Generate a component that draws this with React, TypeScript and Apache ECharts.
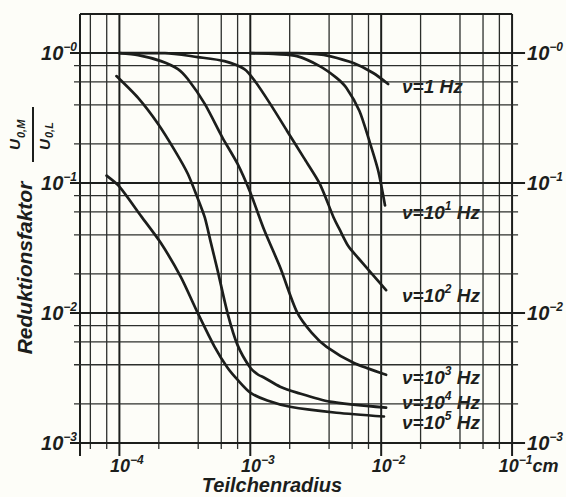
import React, { useEffect, useRef } from "react";
import * as echarts from "echarts";

// axis ranges
const X_MIN = 5e-5;
const X_MAX = 0.1;
const Y_MIN = 0.001;
const Y_MAX = 2;

// grid lines
const xMajor = [1e-4, 1e-3, 1e-2, 1e-1];
const xMinor = [6e-5, 8e-5, 2e-4, 4e-4, 6e-4, 8e-4, 2e-3, 4e-3, 6e-3, 8e-3, 2e-2, 4e-2, 6e-2, 8e-2];
const yMajor = [1, 0.1, 0.01, 0.001];
const yMinor = [0.8, 0.6, 0.4, 0.2, 0.08, 0.06, 0.04, 0.02, 0.008, 0.006, 0.004, 0.002];

// curve labels: frequency exponent ("" = plain 1 Hz)
const curveExponents = ["", "1", "2", "3", "4", "5"];
const curveLabelY = [86, 212, 295, 377, 402, 422];

// series: particle radius (cm) vs reduction factor
const radius1 = [1e-3, 2.27e-3, 3.22e-3, 4.04e-3, 6.14e-3, 8.69e-3, 1.13e-2];
const factor1 = [1, 1, 0.982, 0.948, 0.838, 0.703, 0.579];

const radius10 = [1e-3, 1.6e-3, 2.27e-3, 3.39e-3, 4.56e-3, 5.43e-3, 6.81e-3, 8.11e-3, 9.48e-3, 1.07e-2];
const factor10 = [1, 0.98, 0.948, 0.795, 0.645, 0.539, 0.36, 0.212, 0.125, 0.0673];

const radius100 = [1e-4, 2.23e-4, 3.97e-4, 6.35e-4, 9.01e-4, 1.07e-3, 1.42e-3, 1.91e-3, 2.56e-3, 3.39e-3, 4.33e-3, 4.81e-3, 5.62e-3, 6.7e-3, 8.4e-3, 1.09e-2];
const factor100 = [1, 1, 0.932, 0.868, 0.754, 0.621, 0.407, 0.252, 0.157, 0.0991, 0.0544, 0.044, 0.0326, 0.0264, 0.0203, 0.015];

const radius1000 = [1e-4, 1.39e-4, 2.08e-4, 2.8e-4, 3.33e-4, 4.49e-4, 6.14e-4, 7.98e-4, 1e-3, 1.28e-3, 1.69e-3, 2.27e-3, 2.95e-3, 3.83e-3, 6.14e-3, 1.09e-2];
const factor1000 = [1, 0.965, 0.868, 0.754, 0.632, 0.407, 0.223, 0.141, 0.0846, 0.0433, 0.0225, 0.0102, 0.00703, 0.00549, 0.00414, 0.00335];

const radius1e4 = [9.49e-5, 1.39e-4, 1.97e-4, 2.66e-4, 3.33e-4, 3.97e-4, 4.49e-4, 4.97e-4, 5.62e-4, 6.7e-4, 7.98e-4, 1e-3, 1.15e-3, 1.28e-3, 1.69e-3, 2.27e-3, 4.04e-3, 1.09e-2];
const factor1e4 = [0.666, 0.452, 0.286, 0.177, 0.118, 0.0761, 0.0544, 0.0356, 0.0214, 0.01, 0.00569, 0.00379, 0.00335, 0.00318, 0.00271, 0.00244, 0.00208, 0.00187];

const radius1e5 = [7.98e-5, 1e-4, 1.47e-4, 2.08e-4, 2.95e-4, 3.97e-4, 5.34e-4, 6.7e-4, 7.98e-4, 1e-3, 1.35e-3, 2.01e-3, 4.56e-3, 1.05e-2];
const factor1e5 = [0.114, 0.094, 0.0554, 0.0344, 0.0189, 0.01, 0.00549, 0.00379, 0.00307, 0.00244, 0.00212, 0.0019, 0.00171, 0.0016];

const radii = [radius1, radius10, radius100, radius1000, radius1e4, radius1e5];
const factors = [factor1, factor10, factor100, factor1000, factor1e4, factor1e5];

const INK = "#1c1e1c";
const MINOR = "#2c2f2c";
const BG = "#fdfdf8";
const FONT = "'Liberation Sans', Arial, sans-serif";

const txt = (size: number, extra: any = {}) => ({
  fontFamily: FONT,
  fontStyle: "italic",
  fontWeight: "bold",
  fontSize: size,
  color: INK,
  ...extra,
});

const exponentOf = (v: number) => {
  const l = Math.log10(v);
  const e = Math.round(l);
  if (Math.abs(l - e) > 1e-6) return null;
  return Math.abs(e);
};

export default function App() {
  const ref = useRef<HTMLDivElement>(null);

  useEffect(() => {
    if (!ref.current) return;
    const chart = echarts.init(ref.current, undefined, { renderer: "svg" });

    const yRich = {
      b: txt(20, { lineHeight: 25 }),
      s: txt(12, { lineHeight: 12, verticalAlign: "top" }),
    };
    const xRich = {
      b: txt(18, { lineHeight: 23, padding: [0, 0, 0, 15] }),
      bm: txt(18, { lineHeight: 23, padding: [0, 0, 0, 33] }),
      s: txt(12, { lineHeight: 12, verticalAlign: "top" }),
      c: txt(18, { lineHeight: 23 }),
    };
    const yFormatter = (v: number) => {
      const e = exponentOf(v);
      if (e === null) return "";
      return "{b|10}{s|−" + e + "}";
    };

    const vData = [
      ...xMinor.map((v) => [v, Y_MIN, 0]),
      ...xMajor.map((v) => [v, Y_MIN, 1]),
      [X_MIN, Y_MIN, 2],
    ];
    const hData = [
      ...yMinor.map((v) => [X_MIN, v, 0]),
      ...yMajor.map((v) => [X_MIN, v, 1]),
      [X_MIN, Y_MAX, 2],
    ];

    const lineSeries = radii.map((rs, i) => ({
      type: "line",
      name: "ν=" + (curveExponents[i] ? "10^" + curveExponents[i] : "1") + " Hz",
      data: rs.map((r, j) => [r, factors[i][j]]),
      showSymbol: false,
      smooth: 0.25,
      lineStyle: { color: INK, width: 2.7, cap: "round", join: "round" },
      z: 5,
      silent: true,
    }));

    const option: any = {
      animation: false,
      backgroundColor: BG,
      grid: { left: 80, right: 51, top: 14, bottom: 54 },
      xAxis: {
        type: "log",
        min: X_MIN,
        max: X_MAX,
        axisLine: { show: false },
        axisTick: { show: false },
        splitLine: { show: false },
        axisLabel: {
          ...txt(18),
          margin: 11,
          formatter: (v: number) => {
            const e = exponentOf(v);
            if (e === null) return "";
            if (Math.abs(v - X_MAX) < 1e-9) return "{bm|10}{s|−" + e + "}{c|cm}";
            return "{b|10}{s|−" + e + "}";
          },
          rich: xRich,
        },
      },
      yAxis: [
        {
          type: "log",
          min: Y_MIN,
          max: Y_MAX,
          position: "left",
          axisLine: { show: false },
          axisTick: { show: false },
          splitLine: { show: false },
          axisLabel: { ...txt(20), margin: 3, formatter: yFormatter, rich: yRich },
        },
        {
          type: "log",
          min: Y_MIN,
          max: Y_MAX,
          position: "right",
          axisLine: { show: false },
          axisTick: { show: false },
          splitLine: { show: false },
          axisLabel: { ...txt(20), margin: 15, formatter: yFormatter, rich: yRich },
        },
      ],
      series: [
        {
          type: "custom",
          coordinateSystem: "cartesian2d",
          silent: true,
          z: 1,
          encode: { x: 0, y: 1 },
          data: vData,
          renderItem: (params: any, api: any) => {
            const x = api.value(0);
            const kind = api.value(2);
            const top = api.coord([x, Y_MAX]);
            const bot = api.coord([x, Y_MIN]);
            const stub = kind === 0 ? 6 : 13;
            return {
              type: "line",
              shape: { x1: top[0], y1: top[1], x2: top[0], y2: bot[1] + stub },
              style: { stroke: kind === 0 ? MINOR : INK, lineWidth: kind === 0 ? 1.3 : 2 },
            };
          },
        },
        {
          type: "custom",
          coordinateSystem: "cartesian2d",
          silent: true,
          z: 1,
          encode: { x: 0, y: 1 },
          data: hData,
          renderItem: (params: any, api: any) => {
            const y = api.value(1);
            const kind = api.value(2);
            const l = api.coord([X_MIN, y]);
            const r = api.coord([X_MAX, y]);
            const ls = kind === 0 ? 6 : kind === 1 ? 10 : 0;
            const rs = kind === 0 ? 6 : kind === 1 ? 13 : 0;
            return {
              type: "line",
              shape: { x1: l[0] - ls, y1: l[1], x2: r[0] + rs, y2: l[1] },
              style: { stroke: kind === 0 ? MINOR : INK, lineWidth: kind === 0 ? 1.3 : 2 },
            };
          },
        },
        ...lineSeries,
      ],
      graphic: [
        ...curveExponents.map((e, i) => ({
          type: "text",
          x: 402,
          y: curveLabelY[i],
          silent: true,
          style: {
            text: e ? "{b|ν=10}{s|" + e + "}{b| Hz}" : "{b|ν=1 Hz}",
            rich: {
              b: { fontFamily: FONT, fontStyle: "italic", fontWeight: "bold", fontSize: 19, fill: INK, lineHeight: 24 },
              s: { fontFamily: FONT, fontStyle: "italic", fontWeight: "bold", fontSize: 12, fill: INK, lineHeight: 12, verticalAlign: "top" },
            },
            fontFamily: FONT,
            fontStyle: "italic",
            fontWeight: "bold",
            fontSize: 19,
            fill: INK,
            align: "left",
            verticalAlign: "middle",
          },
        })),
        {
          type: "text",
          x: 272,
          y: 485,
          silent: true,
          style: {
            text: "Teilchenradius",
            fontFamily: FONT,
            fontStyle: "italic",
            fontWeight: "bold",
            fontSize: 20,
            fill: INK,
            align: "center",
            verticalAlign: "middle",
          },
        },
        {
          type: "text",
          x: 24,
          y: 268,
          rotation: Math.PI / 2,
          silent: true,
          style: {
            text: "Reduktionsfaktor",
            fontFamily: FONT,
            fontStyle: "italic",
            fontWeight: "bold",
            fontSize: 21,
            fill: INK,
            align: "center",
            verticalAlign: "middle",
          },
        },
        {
          type: "group",
          x: 33,
          y: 137,
          rotation: Math.PI / 2,
          silent: true,
          children: [
            {
              type: "line",
              shape: { x1: -25, y1: 0, x2: 30, y2: 0 },
              style: { stroke: INK, lineWidth: 2 },
            },
            {
              type: "text",
              x: -13,
              y: -19,
              style: { text: "U", fontFamily: FONT, fontStyle: "italic", fontWeight: "bold", fontSize: 15, fill: INK, align: "left", verticalAlign: "middle" },
            },
            {
              type: "text",
              x: -1,
              y: -12,
              style: { text: "0,M", fontFamily: FONT, fontStyle: "italic", fontWeight: "bold", fontSize: 11, fill: INK, align: "left", verticalAlign: "middle" },
            },
            {
              type: "text",
              x: -13,
              y: 11,
              style: { text: "U", fontFamily: FONT, fontStyle: "italic", fontWeight: "bold", fontSize: 15, fill: INK, align: "left", verticalAlign: "middle" },
            },
            {
              type: "text",
              x: -1,
              y: 16,
              style: { text: "0,L", fontFamily: FONT, fontStyle: "italic", fontWeight: "bold", fontSize: 11, fill: INK, align: "left", verticalAlign: "middle" },
            },
          ],
        },
      ],
    };

    chart.setOption(option);
    return () => chart.dispose();
  }, []);

  return (
    <div
      ref={ref}
      style={{ position: "fixed", left: 0, top: 0, width: 566, height: 497, background: BG }}
    />
  );
}
